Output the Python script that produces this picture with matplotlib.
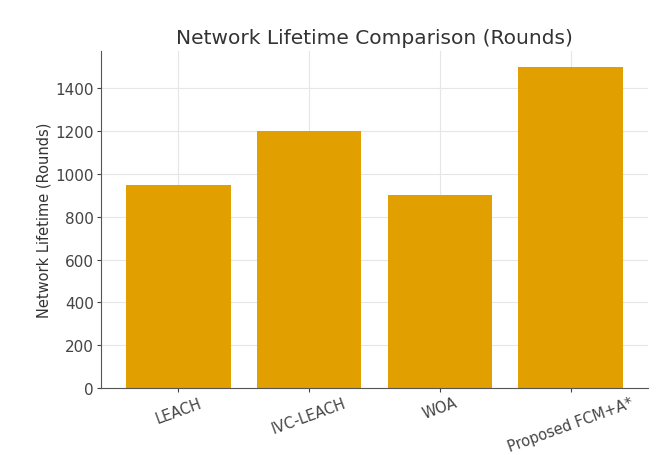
#!/usr/bin/env python3
"""Bar chart of network lifetime (rounds) for the clustering/routing schemes."""

import matplotlib

matplotlib.use("Agg")
import matplotlib.pyplot as plt


METHODS = ["LEACH", "IVC-LEACH", "WOA", "Proposed FCM+A*"]
LIFETIME_ROUNDS = [950, 1200, 900, 1500]

BAR_COLOR = "#E29F00"


def main() -> None:
    fig = plt.figure(figsize=(6.62, 4.56), dpi=100)
    ax = fig.add_axes([0.1526, 0.147, 0.826, 0.739])

    ax.bar(METHODS, LIFETIME_ROUNDS, width=0.8, color=BAR_COLOR, zorder=2)

    ax.set_title("Network Lifetime Comparison (Rounds)", fontsize=14.5,
                 color="#333333", pad=6)
    ax.set_ylabel("Network Lifetime (Rounds)", fontsize=10.5, color="#333333",
                  labelpad=3)
    ax.set_yticks(range(0, 1600, 200))
    ax.tick_params(axis="y", labelsize=11, colors="#444444", length=3, pad=2)
    ax.tick_params(axis="x", labelsize=10.5, colors="#444444", length=3, pad=2)
    plt.setp(ax.get_xticklabels(), rotation=20, ha="center")

    ax.grid(True, color="#e6e6e6", linewidth=0.8, zorder=0)
    ax.set_axisbelow(True)
    for side in ("top", "right"):
        ax.spines[side].set_visible(False)
    for side in ("left", "bottom"):
        ax.spines[side].set_color("#555555")

    fig.savefig("out.png", dpi=100)
    plt.close(fig)


if __name__ == "__main__":
    main()
